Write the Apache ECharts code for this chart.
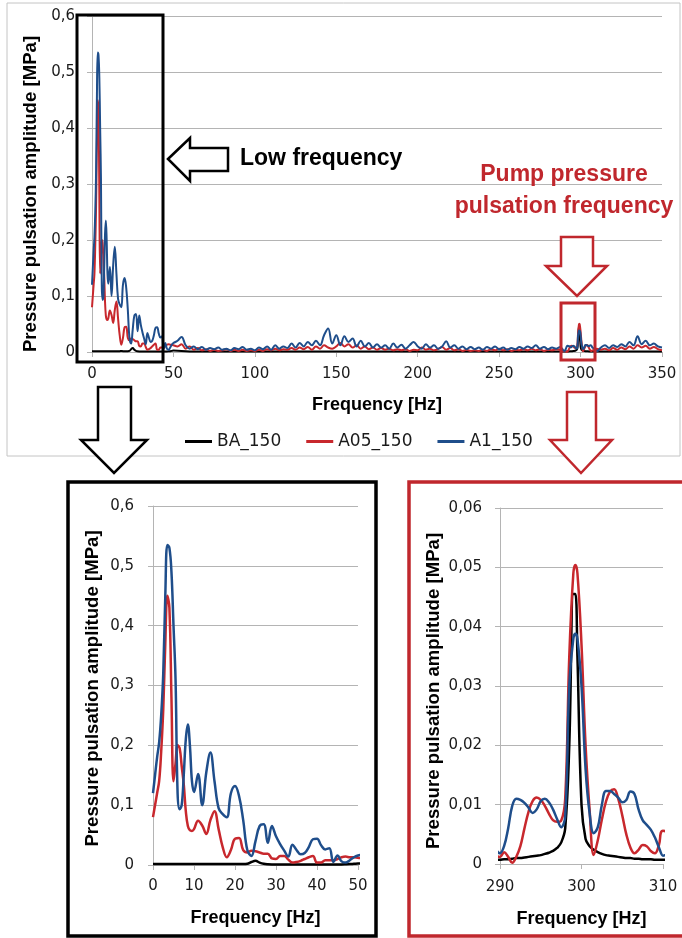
<!DOCTYPE html>
<html>
<head>
<meta charset="utf-8">
<script src="https://cdn.jsdelivr.net/npm/echarts@6/dist/echarts.min.js"></script>
<style>
    html, body { margin: 0; padding: 0; background: #fff; }
    #chart { width: 682px; height: 938px; }
</style>
</head>
<body>
<div id="chart"></div>
<script>
    // ---- data (frequency in Hz, amplitude in MPa) ----
    // 0-50 Hz
    const freqLow = [0, 0.5, 1, 1.5, 2, 2.5, 3, 3.5, 4, 4.5, 5, 5.5, 6, 6.5, 7, 7.5, 8, 8.5, 9, 9.5, 10,
        11, 12, 13, 14, 15, 16, 17, 18, 19, 20, 21, 22, 23, 24, 25, 26, 27, 28, 29, 30,
        31, 32, 33, 34, 35, 36, 37, 38, 39, 40, 41, 42, 43, 44, 45, 46, 47, 48, 49, 50];
    const a1Low = [0.12, 0.15, 0.18, 0.205, 0.25, 0.32, 0.45, 0.535, 0.53, 0.49, 0.4, 0.31, 0.12, 0.093, 0.1, 0.15, 0.21, 0.235, 0.2, 0.14, 0.122,
        0.152, 0.1, 0.155, 0.188, 0.14, 0.095, 0.085, 0.08, 0.12, 0.132, 0.115, 0.075, 0.025, 0.015, 0.04, 0.065, 0.068, 0.037, 0.065, 0.048,
        0.035, 0.024, 0.014, 0.034, 0.025, 0.018, 0.02, 0.03, 0.043, 0.044, 0.033, 0.026, 0.028, 0.005, 0.016, 0.006, 0.004, 0.008, 0.013, 0.016];
    const a05Low = [0.08, 0.1, 0.12, 0.14, 0.19, 0.26, 0.37, 0.45, 0.43, 0.28, 0.14, 0.17, 0.2, 0.195, 0.165, 0.135, 0.09, 0.065, 0.058, 0.057, 0.06,
        0.074, 0.066, 0.052, 0.075, 0.09, 0.06, 0.03, 0.013, 0.025, 0.044, 0.045, 0.025, 0.021, 0.024, 0.023, 0.021, 0.019, 0.019, 0.011, 0.01,
        0.015, 0.015, 0.009, 0.004, 0.005, 0.007, 0.01, 0.013, 0.015, 0.004, 0.004, 0.008, 0.008, 0.008, 0.01, 0.013, 0.014, 0.013, 0.013, 0.012];
    const baLow = [0.0015, 0.0015, 0.0015, 0.0015, 0.0015, 0.0015, 0.0015, 0.0015, 0.0015, 0.0015, 0.0015, 0.0015, 0.0015, 0.0015, 0.0015, 0.0015, 0.0015, 0.0015, 0.0015, 0.0015, 0.0015,
        0.0015, 0.0015, 0.0015, 0.0015, 0.0015, 0.0015, 0.0015, 0.0018, 0.0015, 0.0015, 0.0015, 0.0015, 0.002, 0.005, 0.007, 0.004, 0.002, 0.0012, 0.001, 0.001,
        0.001, 0.001, 0.001, 0.001, 0.001, 0.001, 0.001, 0.001, 0.001, 0.001, 0.001, 0.001, 0.001, 0.001, 0.001, 0.001, 0.0012, 0.0015, 0.002, 0.0025];

    // 52.5-287.5 Hz
    const freqMid = [52.5, 55, 57.5, 60, 62.5, 65, 67.5, 70, 72.5, 75, 77.5, 80, 82.5, 85, 87.5, 90, 92.5, 95, 97.5, 100,
        102.5, 105, 107.5, 110, 112.5, 115, 117.5, 120, 122.5, 125, 127.5, 130, 132.5, 135, 137.5, 140, 142.5, 145, 147.5, 150,
        152.5, 155, 157.5, 160, 162.5, 165, 167.5, 170, 172.5, 175, 177.5, 180, 182.5, 185, 187.5, 190, 192.5, 195, 197.5, 200,
        202.5, 205, 207.5, 210, 212.5, 215, 217.5, 220, 222.5, 225, 227.5, 230, 232.5, 235, 237.5, 240, 242.5, 245, 247.5, 250,
        252.5, 255, 257.5, 260, 262.5, 265, 267.5, 270, 272.5, 275, 277.5, 280, 282.5, 285, 287.5];
    const a1Mid = [0.02, 0.027, 0.012, 0.006, 0.01, 0.005, 0.009, 0.004, 0.007, 0.005, 0.008, 0.004, 0.006, 0.003, 0.007, 0.005, 0.009, 0.004, 0.006, 0.003,
        0.008, 0.005, 0.01, 0.004, 0.012, 0.006, 0.01, 0.007, 0.015, 0.008, 0.016, 0.01, 0.018, 0.012, 0.02, 0.012, 0.03, 0.042, 0.015, 0.03,
        0.012, 0.028, 0.018, 0.024, 0.01, 0.02, 0.01, 0.016, 0.008, 0.014, 0.008, 0.012, 0.006, 0.015, 0.008, 0.013, 0.006, 0.012, 0.018, 0.01,
        0.006, 0.014, 0.008, 0.012, 0.006, 0.01, 0.019, 0.008, 0.012, 0.006, 0.01, 0.005, 0.009, 0.005, 0.008, 0.004, 0.009, 0.006, 0.01, 0.005,
        0.008, 0.004, 0.007, 0.005, 0.009, 0.006, 0.01, 0.007, 0.012, 0.006, 0.009, 0.005, 0.008, 0.006, 0.009];
    const a05Mid = [0.01, 0.014, 0.006, 0.01, 0.004, 0.007, 0.003, 0.005, 0.002, 0.004, 0.002, 0.003, 0.005, 0.002, 0.004, 0.002, 0.004, 0.002, 0.003, 0.002,
        0.004, 0.002, 0.005, 0.003, 0.006, 0.003, 0.005, 0.004, 0.007, 0.004, 0.008, 0.005, 0.009, 0.004, 0.01, 0.006, 0.012, 0.008, 0.006, 0.01,
        0.016, 0.01, 0.014, 0.008, 0.012, 0.006, 0.01, 0.005, 0.008, 0.004, 0.007, 0.004, 0.006, 0.003, 0.005, 0.003, 0.005, 0.002, 0.004, 0.003,
        0.008, 0.004, 0.006, 0.003, 0.005, 0.009, 0.004, 0.007, 0.003, 0.005, 0.002, 0.004, 0.002, 0.003, 0.002, 0.004, 0.002, 0.005, 0.003, 0.006,
        0.003, 0.005, 0.002, 0.004, 0.003, 0.005, 0.003, 0.006, 0.003, 0.005, 0.002, 0.004, 0.003, 0.005, 0.004];
    const baMidFreq = [60, 120, 180, 240, 287.5];
    const baMid = [0.001, 0.001, 0.001, 0.001, 0.0007];

    // 290-310 Hz (pump pulsation)
    const freqPump = [290, 290.5, 291, 291.5, 292, 292.5, 293, 293.5, 294, 294.5, 295, 295.5, 296, 296.5, 297, 297.5, 298, 298.5, 299, 299.25, 299.5,
        300, 300.5, 301, 301.5, 302, 302.5, 303, 303.5, 304, 304.5, 305, 305.5, 306, 306.5, 307, 307.5, 308, 308.5, 309, 309.5, 310];
    const a1Pump = [0.0018, 0.003, 0.006, 0.0098, 0.011, 0.0108, 0.0103, 0.0095, 0.0086, 0.0092, 0.0106, 0.011, 0.0104, 0.0092, 0.0076, 0.0062, 0.008, 0.03, 0.038, 0.0388, 0.038,
        0.03, 0.016, 0.0085, 0.0052, 0.0062, 0.01, 0.0123, 0.0123, 0.0118, 0.0112, 0.0104, 0.0108, 0.0122, 0.0118, 0.0092, 0.0074, 0.0066, 0.0058, 0.0045, 0.0028, 0.0014];
    const a05Pump = [0.0012, 0.002, 0.0012, 0.0002, 0.0012, 0.003, 0.006, 0.0088, 0.0106, 0.0112, 0.0108, 0.0098, 0.0085, 0.0074, 0.0071, 0.0073, 0.011, 0.035, 0.049, 0.0504, 0.049,
        0.037, 0.02, 0.009, 0.0015, 0.004, 0.0075, 0.0105, 0.0122, 0.0126, 0.011, 0.0082, 0.005, 0.0028, 0.0018, 0.0024, 0.0032, 0.003, 0.0022, 0.0018, 0.0032, 0.0056];
    const baPump = [0.0007, 0.0008, 0.0008, 0.0009, 0.001, 0.001, 0.0011, 0.0012, 0.0013, 0.0014, 0.0015, 0.0017, 0.0019, 0.0022, 0.0027, 0.0036, 0.006, 0.02, 0.0455, 0.0455, 0.035,
        0.01, 0.0042, 0.003, 0.0024, 0.002, 0.0017, 0.0015, 0.0014, 0.0013, 0.0012, 0.0011, 0.001, 0.001, 0.0009, 0.0009, 0.0008, 0.0008, 0.0008, 0.0007, 0.0007, 0.0007];

    // 312.5-350 Hz
    const freqHigh = [312.5, 315, 317.5, 320, 322.5, 325, 327.5, 330, 332.5, 335, 337.5, 340, 342.5, 345, 347.5, 350];
    const a1High = [0.008, 0.012, 0.007, 0.012, 0.009, 0.014, 0.01, 0.018, 0.012, 0.028, 0.014, 0.02, 0.012, 0.015, 0.01, 0.008];
    const a05High = [0.004, 0.006, 0.003, 0.007, 0.004, 0.008, 0.005, 0.01, 0.006, 0.012, 0.008, 0.011, 0.006, 0.009, 0.005, 0.003];
    const baHighFreq = [320, 350];
    const baHigh = [0.0007, 0.0007];

    const seriesNames = ['BA_150', 'A05_150', 'A1_150'];
    const seriesColors = ['#000000', '#c8282d', '#1f4e8b'];

    // ---- build ----
    function pairs(f, v) {
        return f.map((x, i) => [x, v[i]]);
    }
    const seriesData = [
        pairs(freqLow, baLow).concat(pairs(baMidFreq, baMid), pairs(freqPump, baPump), pairs(baHighFreq, baHigh)),
        pairs(freqLow, a05Low).concat(pairs(freqMid, a05Mid), pairs(freqPump, a05Pump), pairs(freqHigh, a05High)),
        pairs(freqLow, a1Low).concat(pairs(freqMid, a1Mid), pairs(freqPump, a1Pump), pairs(freqHigh, a1High))
    ];

    const tickFont = { fontFamily: 'DejaVu Sans', fontSize: 15, color: '#1a1a1a' };
    const titleFont = { fontFamily: 'Liberation Sans', fontWeight: 'bold', fontSize: 18, color: '#000' };
    const gridGrey = '#b4b4b4';

    function fmt(digits) {
        return function (v) {
            if (v === 0) return '0';
            return v.toFixed(digits).replace('.', ',');
        };
    }

    function xAxis(idx, min, max, interval, gap, margin) {
        return {
            gridIndex: idx, type: 'value', min: min, max: max, interval: interval,
            name: 'Frequency [Hz]', nameLocation: 'middle', nameGap: gap, nameTextStyle: titleFont,
            axisLine: { lineStyle: { color: gridGrey, width: 1 } },
            axisTick: { show: true, length: 5, lineStyle: { color: gridGrey } },
            axisLabel: Object.assign({ margin: margin }, tickFont),
            splitLine: { show: false }
        };
    }
    // shift: moves the rotated title down by shift/2 px
    function yAxis(idx, max, interval, digits, gap, margin, shift) {
        return {
            gridIndex: idx, type: 'value', min: 0, max: max, interval: interval,
            name: 'Pressure pulsation amplitude [MPa]', nameLocation: 'middle', nameGap: gap,
            nameTextStyle: Object.assign({}, titleFont, { fontSize: 18.6, padding: [0, shift, 0, 0] }),
            axisLine: { show: true, lineStyle: { color: gridGrey, width: 1 } },
            axisTick: { show: true, length: 5, lineStyle: { color: gridGrey } },
            axisLabel: Object.assign({ margin: margin, formatter: fmt(digits) }, tickFont),
            splitLine: { show: true, lineStyle: { color: gridGrey, width: 1 } }
        };
    }

    const series = [];
    [0, 1, 2].forEach(g => {
        seriesNames.forEach((name, i) => {
            series.push({
                name: name, type: 'line', xAxisIndex: g, yAxisIndex: g,
                data: seriesData[i], showSymbol: false, smooth: 0.4, clip: true,
                lineStyle: { color: seriesColors[i], width: g === 0 ? 2 : 2.5 },
                itemStyle: { color: seriesColors[i] }
            });
        });
    });

    const red = '#c0272d';
    function outline(color, w) {
        return { fill: 'none', stroke: color, lineWidth: w };
    }
    const graphics = [
        // outer frame of the overview chart
        { type: 'rect', z: 100, shape: { x: 7, y: 3, width: 673, height: 453 }, style: outline('#c4c4c4', 1) },
        // low frequency marker box + arrow + text
        { type: 'rect', z: 101, shape: { x: 77, y: 15, width: 86, height: 347 }, style: outline('#000', 3) },
        { type: 'polygon', z: 101, shape: { points: [[168, 159], [190, 138], [190, 148], [228, 148], [228, 171], [190, 171], [190, 181]] },
            style: { fill: '#fff', stroke: '#000', lineWidth: 2.5 } },
        { type: 'text', z: 101, left: 240, top: 147, style: { text: 'Low frequency', fill: '#000', font: 'bold 23px "Liberation Sans"' } },
        // pump pulsation marker
        { type: 'text', z: 101, style: { x: 564, y: 175, text: 'Pump pressure', fill: red, font: 'bold 23px "Liberation Sans"', align: 'center', verticalAlign: 'middle' } },
        { type: 'text', z: 101, style: { x: 564, y: 207, text: 'pulsation frequency', fill: red, font: 'bold 23px "Liberation Sans"', align: 'center', verticalAlign: 'middle' } },
        { type: 'polygon', z: 101, shape: { points: [[561, 237], [593, 237], [593, 266], [607, 266], [577, 296], [546, 266], [561, 266]] },
            style: { fill: '#fff', stroke: red, lineWidth: 2.5 } },
        { type: 'rect', z: 101, shape: { x: 561, y: 303, width: 34, height: 57 }, style: outline(red, 3) },
        // arrows down to the detail charts
        { type: 'polygon', z: 101, shape: { points: [[98, 387], [131, 387], [131, 440], [147, 440], [114, 473], [81, 440], [98, 440]] },
            style: { fill: '#fff', stroke: '#000', lineWidth: 2.5 } },
        { type: 'polygon', z: 101, shape: { points: [[567, 392], [596, 392], [596, 440], [612, 440], [581, 473], [550, 440], [567, 440]] },
            style: { fill: '#fff', stroke: red, lineWidth: 2.5 } },
        // detail frames
        { type: 'rect', z: 101, shape: { x: 68, y: 482, width: 308, height: 454 }, style: outline('#000', 3.5) },
        { type: 'rect', z: 101, shape: { x: 409, y: 482, width: 290, height: 454 }, style: outline(red, 3.5) }
    ];

    const myChart = echarts.init(document.getElementById('chart'));
    const option = {
        animation: false,
        backgroundColor: '#fff',
        legend: {
            data: seriesNames, left: 180, top: 428, icon: 'rect', itemWidth: 27, itemHeight: 3, itemGap: 25,
            textStyle: { fontFamily: 'DejaVu Sans', fontSize: 17, color: '#1a1a1a' }
        },
        grid: [
            { left: 92, right: 20, top: 16, bottom: 586 },
            { left: 153, right: 324, top: 506, bottom: 73 },
            { left: 500, right: 19, top: 508, bottom: 74 }
        ],
        xAxis: [
            xAxis(0, 0, 350, 50, 44, 15),
            xAxis(1, 0, 50, 10, 44, 14),
            xAxis(2, 290, 310, 10, 46, 16)
        ],
        yAxis: [
            yAxis(0, 0.6, 0.1, 1, 52, 17, 20),
            yAxis(1, 0.6, 0.1, 1, 51, 19, 6),
            yAxis(2, 0.06, 0.01, 2, 57, 18, 10)
        ],
        graphic: graphics,
        series: series
    };
    myChart.setOption(option);
</script>
</body>
</html>
